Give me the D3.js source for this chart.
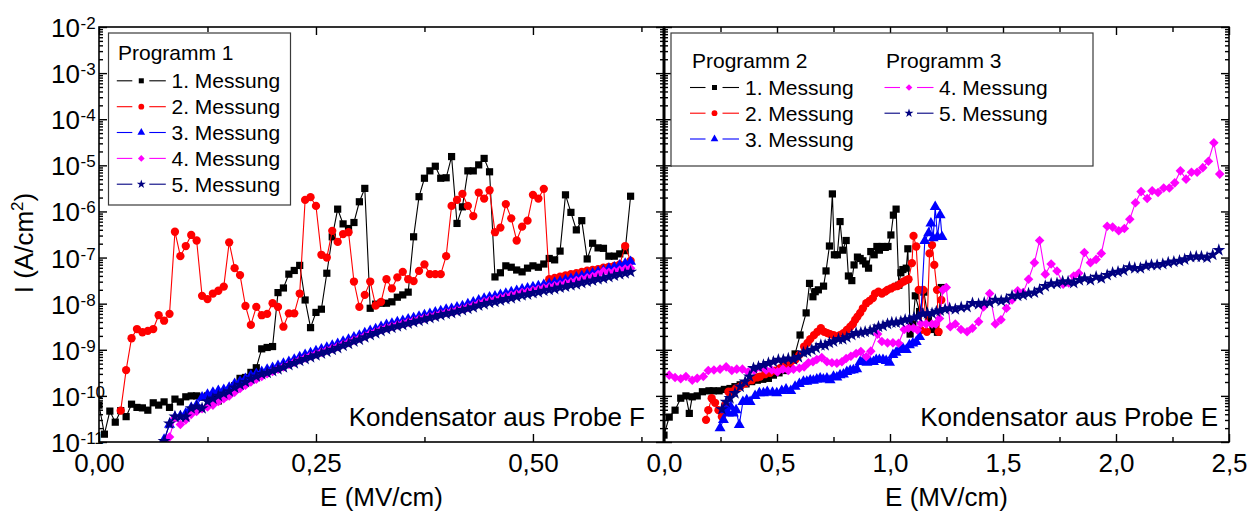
<!DOCTYPE html>
<html>
<head>
<meta charset="utf-8">
<script src="https://cdn.jsdelivr.net/npm/d3@7"></script>
<style>
  body { margin: 0; background: #fff; }
  svg { display: block; }
</style>
</head>
<body>
<svg id="chart" width="1256" height="513"></svg>
<script>
// ---------------------------------------------------------------
// Leakage current density I (A/cm^2) vs. field E (MV/cm)
// Current values are stored as log10(I).
// ---------------------------------------------------------------

// Probe F: all five measurements share one field grid (MV/cm)
const fieldF = [0, 0.00625, 0.0125, 0.01875, 0.025, 0.03125, 0.0375, 0.04375, 0.05, 0.05625,
  0.0625, 0.06875, 0.075, 0.08125, 0.0875, 0.09375, 0.1, 0.10625, 0.1125, 0.11875,
  0.125, 0.13125, 0.1375, 0.14375, 0.15, 0.15625, 0.1625, 0.16875, 0.175, 0.18125,
  0.1875, 0.19375, 0.2, 0.20625, 0.2125, 0.21875, 0.225, 0.23125, 0.2375, 0.24375,
  0.25, 0.25625, 0.2625, 0.26875, 0.275, 0.28125, 0.2875, 0.29375, 0.3, 0.30625,
  0.3125, 0.31875, 0.325, 0.33125, 0.3375, 0.34375, 0.35, 0.35625, 0.3625, 0.36875,
  0.375, 0.38125, 0.3875, 0.39375, 0.4, 0.40625, 0.4125, 0.41875, 0.425, 0.43125,
  0.4375, 0.44375, 0.45, 0.45625, 0.4625, 0.46875, 0.475, 0.48125, 0.4875, 0.49375,
  0.5, 0.50625, 0.5125, 0.51875, 0.525, 0.53125, 0.5375, 0.54375, 0.55, 0.55625,
  0.5625, 0.56875, 0.575, 0.58125, 0.5875, 0.59375, 0.6, 0.60625, 0.6125];

const logF_m1 = [-10.20, -10.83, -10.33, -10.57, -10.32, -10.45, -10.18, -10.25, -10.26, -10.31,
  -10.15, -10.20, -10.13, -10.25, -10.07, -10.13, -10.02, -10.00, -10.00, -10.03,
  -10.00, -10.02, -10.11, -10.02, -9.91, -9.78, -9.62, -9.60, -9.49, -9.39,
  -8.98, -8.95, -8.93, -7.76, -7.66, -7.36, -7.28, -7.17, -7.92, -8.52,
  -8.19, -8.12, -7.34, -6.55, -5.95, -6.27, -6.37, -6.24, -5.79, -5.50,
  -8.10, -8.01, -7.99, -7.99, -7.96, -7.86, -7.81, -7.75, -6.55, -5.68,
  -5.28, -5.12, -5.02, -5.28, -5.27, -4.81, -6.26, -5.90, -5.12, -5.12,
  -4.99, -4.85, -5.14, -7.42, -7.33, -7.18, -7.21, -7.27, -7.31, -7.23,
  -7.18, -7.21, -7.14, -7.02, -7.05, -6.86, -5.64, -6.02, -6.40, -6.20,
  -7.03, -6.69, -6.79, -6.80, -6.97, -6.97, -6.92, -6.85, -5.67];

const logF_m2 = [null, null, null, null, -10.32, -9.44, -8.75, -8.55, -8.62, -8.59,
  -8.55, -8.25, -8.37, -8.22, -6.44, -6.97, -6.75, -6.51, -6.63, -7.83,
  -7.90, -7.78, -7.72, -7.63, -6.67, -7.23, -7.38, -8.05, -8.46, -8.07,
  -8.25, -8.22, -7.99, -8.07, -8.50, -8.21, -8.21, -7.78, -5.75, -5.69,
  -5.88, -6.94, -7.00, -6.42, -6.66, -6.49, -6.45, -7.52, -8.07, -7.81,
  -7.52, -8.04, -7.96, -7.47, -7.67, -7.43, -7.31, -7.47, -7.51, -7.29,
  -7.15, -7.36, -7.36, -7.36, -6.97, -5.88, -5.75, -5.62, -5.88, -6.10,
  -5.59, -5.72, -5.54, -6.45, -6.35, -5.84, -6.15, -6.63, -6.33, -6.20,
  -5.64, -5.72, -5.51, -7.47, -7.44, -7.415, -7.385, -7.36, -7.34, -7.31,
  -7.285, -7.27, -7.25, -7.22, -7.20, -7.18, -7.15, -6.75, -7.07];

const logF_m3 = [null, null, null, null, null, null, null, null, null, null,
  null, -11.15, -10.95, -10.62, -10.46, -10.44, -10.38, -10.26, -10.20, -10.03,
  -9.97, -9.93, -9.89, -9.87, -9.82, -9.74, -9.69, -9.63, -9.56, -9.52,
  -9.48, -9.43, -9.39, -9.35, -9.30, -9.26, -9.21, -9.16, -9.11, -9.07,
  -9.03, -8.99, -8.95, -8.91, -8.87, -8.82, -8.78, -8.73, -8.69, -8.64,
  -8.59, -8.55, -8.50, -8.46, -8.43, -8.40, -8.37, -8.34, -8.31, -8.28,
  -8.25, -8.22, -8.19, -8.16, -8.13, -8.11, -8.08, -8.05, -8.01, -7.97,
  -7.93, -7.89, -7.86, -7.84, -7.81, -7.78, -7.75, -7.72, -7.69, -7.67,
  -7.64, -7.62, -7.59, -7.57, -7.54, -7.52, -7.49, -7.46, -7.43, -7.40,
  -7.37, -7.34, -7.31, -7.28, -7.24, -7.21, -7.17, -7.13, -7.09];

const logF_m4 = [null, null, null, null, null, null, null, null, null, null,
  null, null, -11.20, -10.89, -10.48, -10.62, -10.52, -10.40, -10.34, -10.28,
  -10.24, -10.20, -10.12, -10.06, -10.00, -9.92, -9.84, -9.77, -9.70, -9.64,
  -9.58, -9.52, -9.47, -9.42, -9.37, -9.32, -9.27, -9.22, -9.18, -9.13,
  -9.09, -9.05, -9.01, -8.97, -8.93, -8.88, -8.84, -8.79, -8.75, -8.70,
  -8.65, -8.61, -8.56, -8.52, -8.49, -8.46, -8.43, -8.40, -8.37, -8.34,
  -8.31, -8.28, -8.25, -8.22, -8.19, -8.17, -8.14, -8.11, -8.08, -8.04,
  -8.00, -7.96, -7.93, -7.91, -7.88, -7.85, -7.82, -7.79, -7.76, -7.74,
  -7.71, -7.69, -7.66, -7.64, -7.61, -7.59, -7.56, -7.53, -7.50, -7.47,
  -7.44, -7.41, -7.37, -7.30, -7.32, -7.30, -7.27, -7.25, -7.23];

const logF_m5 = [null, null, null, null, null, null, null, null, null, null,
  null, -11.20, -10.98, -10.60, -10.45, -10.45, -10.45, -10.27, -10.23, -10.27,
  -10.12, -10.06, -10.00, -9.95, -9.90, -9.82, -9.76, -9.70, -9.63, -9.58,
  -9.53, -9.50, -9.46, -9.42, -9.38, -9.33, -9.29, -9.24, -9.20, -9.16,
  -9.12, -9.08, -9.04, -9.00, -8.96, -8.91, -8.87, -8.82, -8.78, -8.73,
  -8.68, -8.64, -8.59, -8.55, -8.52, -8.49, -8.46, -8.43, -8.40, -8.37,
  -8.34, -8.31, -8.28, -8.25, -8.22, -8.20, -8.17, -8.14, -8.11, -8.08,
  -8.04, -8.01, -7.98, -7.96, -7.93, -7.90, -7.88, -7.85, -7.82, -7.80,
  -7.77, -7.75, -7.72, -7.70, -7.68, -7.65, -7.63, -7.60, -7.58, -7.55,
  -7.52, -7.50, -7.47, -7.45, -7.42, -7.39, -7.36, -7.34, -7.31];

// Probe E: [E (MV/cm), log10 I] per measurement
const probeE_m1 = [[0, -10.85], [0.023, -10.46], [0.049, -10.31], [0.074, -10.05], [0.097, -10.00],
  [0.112, -10.38], [0.125, -10.02], [0.147, -10.00], [0.170, -9.91], [0.199, -9.89],
  [0.218, -9.89], [0.244, -9.89], [0.267, -9.86], [0.292, -9.84], [0.314, -9.80],
  [0.337, -9.76], [0.363, -9.74], [0.388, -9.69], [0.413, -9.66], [0.437, -9.64],
  [0.462, -9.62], [0.484, -9.55], [0.509, -9.50], [0.531, -9.45], [0.558, -9.40],
  [0.580, -9.09], [0.602, -8.68], [0.629, -8.20], [0.644, -7.56], [0.659, -7.85],
  [0.669, -7.74], [0.683, -7.70], [0.706, -7.62], [0.717, -7.29], [0.732, -6.75],
  [0.745, -5.62], [0.754, -6.94], [0.767, -6.94], [0.779, -6.22], [0.791, -6.84],
  [0.806, -6.63], [0.816, -7.40], [0.831, -7.50], [0.841, -7.16], [0.856, -6.99],
  [0.868, -7.02], [0.880, -7.07], [0.892, -7.14], [0.905, -7.23], [0.915, -6.87],
  [0.930, -6.94], [0.942, -6.76], [0.953, -6.84], [0.965, -6.76], [0.979, -6.78],
  [0.991, -6.76], [1.004, -6.51], [1.015, -6.08], [1.027, -5.95], [1.039, -7.60],
  [1.048, -7.33], [1.057, -7.26], [1.072, -7.23], [1.079, -6.81], [1.089, -8.66],
  [1.101, -8.44], [1.112, -7.83], [1.131, -8.17], [1.150, -7.75], [1.170, -8.35],
  [1.190, -8.56], [1.210, -8.62], [1.227, -7.65]];

const probeE_m2 = [[0.186, -10.52], [0.196, -10.31], [0.211, -10.05], [0.226, -10.15], [0.241, -10.31],
  [0.256, -10.45], [0.270, -10.20], [0.285, -9.91], [0.300, -9.91], [0.319, -9.84],
  [0.337, -9.80], [0.361, -9.73], [0.388, -9.66], [0.411, -9.60], [0.425, -9.58],
  [0.447, -9.53], [0.469, -9.50], [0.492, -9.45], [0.514, -9.40], [0.536, -9.33],
  [0.558, -9.28], [0.580, -9.22], [0.599, -9.11], [0.620, -8.93], [0.635, -8.85],
  [0.647, -8.77], [0.664, -8.68], [0.679, -8.61], [0.694, -8.53], [0.709, -8.61],
  [0.723, -8.64], [0.735, -8.66], [0.750, -8.68], [0.765, -8.72], [0.779, -8.68],
  [0.794, -8.64], [0.809, -8.57], [0.824, -8.50], [0.836, -8.44], [0.846, -8.35],
  [0.856, -8.28], [0.868, -8.20], [0.880, -8.10], [0.895, -7.99], [0.909, -7.94],
  [0.924, -7.88], [0.934, -7.78], [0.949, -7.74], [0.964, -7.78], [0.979, -7.74],
  [0.989, -7.70], [1.004, -7.67], [1.019, -7.63], [1.033, -7.62], [1.045, -7.57],
  [1.060, -7.52], [1.072, -7.49], [1.082, -7.47], [1.097, -7.12], [1.104, -6.53],
  [1.116, -6.76], [1.127, -7.70], [1.136, -8.57], [1.147, -7.70], [1.163, -8.61],
  [1.175, -6.91], [1.186, -6.73], [1.196, -7.16], [1.208, -7.70], [1.215, -8.61],
  [1.227, -7.92]];

const probeE_m3 = [[0.248, -10.70], [0.263, -10.52], [0.273, -10.31], [0.285, -10.38], [0.295, -10.23],
  [0.307, -10.38], [0.319, -10.31], [0.333, -10.63], [0.349, -10.13], [0.366, -10.09],
  [0.381, -10.13], [0.403, -10.00], [0.422, -9.94], [0.440, -9.94], [0.457, -9.91],
  [0.480, -9.93], [0.499, -9.94], [0.521, -9.89], [0.540, -9.86], [0.561, -9.89],
  [0.580, -9.80], [0.599, -9.74], [0.617, -9.69], [0.632, -9.69], [0.647, -9.66],
  [0.661, -9.67], [0.676, -9.64], [0.691, -9.62], [0.705, -9.64], [0.721, -9.62],
  [0.735, -9.66], [0.750, -9.58], [0.765, -9.60], [0.779, -9.55], [0.794, -9.53],
  [0.809, -9.48], [0.824, -9.45], [0.838, -9.44], [0.853, -9.42], [0.868, -9.26],
  [0.883, -9.22], [0.898, -9.28], [0.912, -9.26], [0.927, -9.26], [0.939, -9.22],
  [0.953, -9.22], [0.969, -9.22], [0.983, -9.24], [0.998, -9.28], [1.013, -9.11],
  [1.027, -9.06], [1.042, -9.00], [1.057, -8.97], [1.072, -9.00], [1.086, -8.90],
  [1.101, -8.86], [1.116, -8.83], [1.131, -8.72], [1.154, -6.64], [1.171, -6.47],
  [1.181, -6.26], [1.191, -6.58], [1.200, -5.90], [1.210, -6.55], [1.222, -6.08],
  [1.230, -6.55]];

const probeE_m4 = [[0.023, -9.55], [0.049, -9.60], [0.074, -9.63], [0.097, -9.58], [0.125, -9.66],
  [0.147, -9.62], [0.174, -9.58], [0.196, -9.45], [0.221, -9.44], [0.248, -9.42],
  [0.275, -9.37], [0.300, -9.45], [0.322, -9.42], [0.347, -9.42], [0.373, -9.48],
  [0.399, -9.45], [0.425, -9.38], [0.452, -9.44], [0.477, -9.44], [0.502, -9.48],
  [0.526, -9.42], [0.550, -9.45], [0.573, -9.42], [0.599, -9.40], [0.620, -9.37],
  [0.639, -9.28], [0.659, -9.26], [0.676, -9.21], [0.698, -9.17], [0.721, -9.26],
  [0.743, -9.28], [0.765, -9.29], [0.787, -9.26], [0.806, -9.19], [0.827, -9.14],
  [0.850, -9.08], [0.871, -9.04], [0.895, -9.15], [0.915, -9.03], [0.945, -8.66],
  [0.964, -8.82], [0.989, -8.85], [1.013, -8.85], [1.038, -8.86], [1.063, -8.56],
  [1.082, -8.53], [1.104, -8.53], [1.121, -8.57], [1.137, -8.43], [1.160, -8.44],
  [1.186, -8.44], [1.202, -8.44], [1.219, -8.32], [1.234, -7.70], [1.249, -7.65],
  [1.267, -8.50], [1.289, -8.44], [1.314, -8.56], [1.341, -8.61], [1.365, -8.53],
  [1.392, -8.39], [1.414, -8.07], [1.441, -7.78], [1.466, -8.44], [1.491, -8.35],
  [1.515, -8.10], [1.540, -7.92], [1.565, -7.72], [1.589, -7.76], [1.613, -7.47],
  [1.639, -7.11], [1.662, -6.63], [1.687, -7.36], [1.713, -7.14], [1.739, -7.29],
  [1.766, -7.58], [1.791, -7.55], [1.813, -7.40], [1.835, -7.34], [1.860, -6.89],
  [1.887, -7.11], [1.912, -7.04], [1.935, -6.91], [1.961, -6.32], [1.985, -6.34],
  [2.012, -6.42], [2.037, -6.37], [2.061, -6.17], [2.086, -5.81], [2.111, -5.57],
  [2.138, -5.72], [2.160, -5.55], [2.186, -5.59], [2.211, -5.49], [2.236, -5.49],
  [2.260, -5.38], [2.285, -5.12], [2.310, -5.30], [2.334, -5.15], [2.359, -5.15],
  [2.384, -5.05], [2.409, -4.91], [2.433, -4.51], [2.459, -5.19]];

const probeE_m5 = [[0.256, -10.29], [0.275, -10.13], [0.292, -10.05], [0.314, -9.94], [0.337, -9.80],
  [0.359, -9.69], [0.378, -9.58], [0.396, -9.40], [0.418, -9.37], [0.440, -9.33],
  [0.462, -9.29], [0.484, -9.26], [0.506, -9.22], [0.528, -9.22], [0.550, -9.19],
  [0.573, -9.21], [0.595, -9.16], [0.617, -9.06], [0.635, -9.04], [0.654, -9.00],
  [0.673, -8.96], [0.694, -8.90], [0.713, -8.90], [0.732, -8.85], [0.750, -8.82],
  [0.772, -8.77], [0.791, -8.77], [0.809, -8.73], [0.831, -8.68], [0.850, -8.64],
  [0.871, -8.63], [0.890, -8.61], [0.912, -8.59], [0.930, -8.56], [0.949, -8.50],
  [0.969, -8.48], [0.989, -8.44], [1.008, -8.41], [1.027, -8.41], [1.048, -8.39],
  [1.067, -8.35], [1.086, -8.34], [1.107, -8.30], [1.126, -8.28], [1.146, -8.22],
  [1.166, -8.21], [1.186, -8.21], [1.205, -8.17], [1.222, -8.15], [1.244, -8.12],
  [1.264, -8.10], [1.289, -8.12], [1.315, -8.08], [1.341, -8.07], [1.365, -7.99],
  [1.392, -8.01], [1.417, -7.98], [1.441, -7.98], [1.466, -7.92], [1.492, -7.94],
  [1.515, -7.91], [1.540, -7.83], [1.565, -7.83], [1.589, -7.81], [1.613, -7.78],
  [1.639, -7.76], [1.662, -7.70], [1.687, -7.62], [1.713, -7.57], [1.739, -7.56],
  [1.764, -7.52], [1.788, -7.52], [1.813, -7.55], [1.838, -7.49], [1.861, -7.45],
  [1.887, -7.49], [1.912, -7.42], [1.935, -7.45], [1.961, -7.38], [1.985, -7.33],
  [2.009, -7.31], [2.034, -7.28], [2.059, -7.21], [2.083, -7.23], [2.108, -7.23],
  [2.133, -7.18], [2.157, -7.16], [2.182, -7.16], [2.207, -7.14], [2.231, -7.11],
  [2.256, -7.09], [2.281, -7.07], [2.304, -7.04], [2.330, -6.99], [2.355, -6.98],
  [2.378, -6.98], [2.403, -7.00], [2.428, -6.94], [2.455, -6.84]];

// Labels and ticks
const measurementLabels = ["1. Messung", "2. Messung", "3. Messung", "4. Messung", "5. Messung"];
const programLabels = ["Programm 1", "Programm 2", "Programm 3"];
const panelLabels = ["Kondensator aus Probe F", "Kondensator aus Probe E"];
const xTitle = "E (MV/cm)";
const decadeExponents = [-11, -10, -9, -8, -7, -6, -5, -4, -3, -2];
const ticksF = [0, 0.25, 0.5];
const minorTicksF = [0.125, 0.375, 0.625];
const ticksE = [0, 0.5, 1.0, 1.5, 2.0, 2.5];
const minorTicksE = [0.25, 0.75, 1.25, 1.75, 2.25];

// ---------------------------------------------------------------
const FONT = '"Liberation Sans", Arial, Helvetica, sans-serif';
const AXIS_FONT = 26;
const svg = d3.select("#chart");

const plotTop = 27, plotBottom = 442;
const leftX0 = 99, midX = 664, rightX1 = 1229;

const y = d3.scaleLog().domain([1e-11, 1e-2]).range([plotBottom, plotTop]);
const xF = d3.scaleLinear().domain([0, 0.651]).range([leftX0, midX]);
const xE = d3.scaleLinear().domain([0, 2.5]).range([midX, rightX1]);

const de = d3.formatLocale({ decimal: ",", thousands: ".", grouping: [3], currency: ["", " €"] });
const fmt2 = de.format(".2f");
const fmt1 = de.format(".1f");

const styles = [
  { color: "#000000", shape: "square" },
  { color: "#ff0000", shape: "circle" },
  { color: "#0000ff", shape: "triangle" },
  { color: "#ff00ff", shape: "diamond" },
  { color: "#000080", shape: "star" }
];

function markerPath(shape) {
  switch (shape) {
    case "square": return d3.symbol().type(d3.symbolSquare).size(52)();
    case "circle": return d3.symbol().type(d3.symbolCircle).size(54)();
    case "triangle": return d3.symbol().type(d3.symbolTriangle).size(52)();
    case "diamond": return d3.symbol().type(d3.symbolSquare).size(46)();
    case "star": return d3.symbol().type(d3.symbolStar).size(52)();
  }
}
function markerRot(shape) { return shape === "diamond" ? 45 : 0; }

// clipping of the two plot areas
const defs = svg.append("defs");
defs.append("clipPath").attr("id", "clipF").append("rect")
  .attr("x", leftX0).attr("y", plotTop).attr("width", midX - leftX0).attr("height", plotBottom - plotTop);
defs.append("clipPath").attr("id", "clipE").append("rect")
  .attr("x", midX).attr("y", plotTop).attr("width", rightX1 - midX).attr("height", plotBottom - plotTop);

function drawSeries(parent, xs, pts, style) {
  const line = d3.line().x(d => xs(d[0])).y(d => y(Math.pow(10, d[1])));
  const g = parent.append("g");
  g.append("path").attr("d", line(pts))
    .attr("fill", "none").attr("stroke", style.color).attr("stroke-width", 1.1);
  const p = markerPath(style.shape), r = markerRot(style.shape);
  g.selectAll("path.mk").data(pts).join("path").attr("class", "mk")
    .attr("d", p)
    .attr("transform", d => `translate(${xs(d[0])},${y(Math.pow(10, d[1]))}) rotate(${r})`)
    .attr("fill", style.color);
}

// Probe F panel data
const gF = svg.append("g").attr("clip-path", "url(#clipF)");
[logF_m1, logF_m2, logF_m3, logF_m4, logF_m5].forEach((vals, i) => {
  const pts = fieldF.map((e, k) => [e, vals[k]]).filter(d => d[1] !== null && d[1] !== undefined);
  drawSeries(gF, xF, pts, styles[i]);
});

// Probe E panel data
const gE = svg.append("g").attr("clip-path", "url(#clipE)");
[probeE_m1, probeE_m2, probeE_m3, probeE_m4, probeE_m5].forEach((pts, i) => {
  drawSeries(gE, xE, pts, styles[i]);
});

// ---------------------------------------------------------------
// Axes
function addAxis(axis, tx, ty) {
  const g = svg.append("g").attr("transform", `translate(${tx},${ty})`).call(axis);
  g.select(".domain").remove();
  g.attr("font-family", FONT).attr("font-size", AXIS_FONT);
  g.selectAll(".tick line").attr("stroke", "#000").attr("stroke-width", 1.4);
  g.selectAll(".tick text").attr("fill", "#000");
  return g;
}
const majorY = decadeExponents.map(e => Math.pow(10, e));
const minorY = [];
decadeExponents.slice(0, -1).forEach(e => {
  [2, 3, 4, 5, 6, 7, 8, 9].forEach(k => minorY.push(k * Math.pow(10, e)));
});

// bottom + top, probe F
addAxis(d3.axisBottom(xF).tickValues(ticksF).tickFormat(fmt2).tickSize(-8).tickPadding(12), 0, plotBottom);
addAxis(d3.axisBottom(xF).tickValues(minorTicksF).tickFormat("").tickSize(-5), 0, plotBottom);
addAxis(d3.axisTop(xF).tickValues(ticksF).tickFormat("").tickSize(-8), 0, plotTop);
addAxis(d3.axisTop(xF).tickValues(minorTicksF).tickFormat("").tickSize(-5), 0, plotTop);
// bottom + top, probe E
addAxis(d3.axisBottom(xE).tickValues(ticksE).tickFormat(fmt1).tickSize(-8).tickPadding(12), 0, plotBottom);
addAxis(d3.axisBottom(xE).tickValues(minorTicksE).tickFormat("").tickSize(-5), 0, plotBottom);
addAxis(d3.axisTop(xE).tickValues(ticksE).tickFormat("").tickSize(-8), 0, plotTop);
addAxis(d3.axisTop(xE).tickValues(minorTicksE).tickFormat("").tickSize(-5), 0, plotTop);

// vertical log axes (ticks pointing into each panel)
[[d3.axisLeft, leftX0], [d3.axisRight, midX], [d3.axisLeft, midX], [d3.axisRight, rightX1]].forEach(([ax, x0]) => {
  addAxis(ax(y).tickValues(majorY).tickFormat("").tickSize(-8), x0, 0);
  addAxis(ax(y).tickValues(minorY).tickFormat("").tickSize(-4), x0, 0);
});

// decade labels 10^n
const yLab = svg.append("g").attr("font-family", FONT).attr("fill", "#000");
decadeExponents.forEach(e => {
  const yy = y(Math.pow(10, e));
  yLab.append("text").attr("x", 80).attr("y", yy + 10).attr("text-anchor", "end")
    .attr("font-size", 26).text("10");
  yLab.append("text").attr("x", 80.5).attr("y", yy + 2).attr("text-anchor", "start")
    .attr("font-size", 17).text(String(e));
});

// frames
svg.append("rect").attr("x", leftX0).attr("y", plotTop).attr("width", midX - leftX0).attr("height", plotBottom - plotTop)
  .attr("fill", "none").attr("stroke", "#000").attr("stroke-width", 1.6);
svg.append("rect").attr("x", midX).attr("y", plotTop).attr("width", rightX1 - midX).attr("height", plotBottom - plotTop)
  .attr("fill", "none").attr("stroke", "#000").attr("stroke-width", 1.6);
svg.append("line").attr("x1", midX).attr("x2", midX).attr("y1", plotTop).attr("y2", plotBottom)
  .attr("stroke", "#000").attr("stroke-width", 3);

// axis titles
const titles = svg.append("g").attr("font-family", FONT).attr("font-size", AXIS_FONT).attr("fill", "#000");
titles.append("text").attr("x", (leftX0 + midX) / 2).attr("y", 506).attr("text-anchor", "middle").text(xTitle);
titles.append("text").attr("x", (midX + rightX1) / 2).attr("y", 506).attr("text-anchor", "middle").text(xTitle);
const yt = titles.append("text").attr("transform", "translate(33,243) rotate(-90)").attr("text-anchor", "middle");
yt.append("tspan").text("I (A/cm");
yt.append("tspan").attr("font-size", 17).attr("dy", -10).text("2");
yt.append("tspan").attr("dy", 10).text(")");

// panel captions
titles.append("text").attr("x", 645).attr("y", 425.5).attr("text-anchor", "end").text(panelLabels[0]);
titles.append("text").attr("x", 1218).attr("y", 425.5).attr("text-anchor", "end").text(panelLabels[1]);

// ---------------------------------------------------------------
// Legends
function legendEntry(g, cx, baseline, style, label, textX) {
  const cy = baseline - 7.5;
  g.append("line").attr("x1", cx - 24.5).attr("x2", cx - 9).attr("y1", cy).attr("y2", cy)
    .attr("stroke", style.color).attr("stroke-width", 1.1);
  g.append("line").attr("x1", cx + 8).attr("x2", cx + 24.5).attr("y1", cy).attr("y2", cy)
    .attr("stroke", style.color).attr("stroke-width", 1.1);
  g.append("path").attr("d", markerPath(style.shape))
    .attr("transform", `translate(${cx},${cy}) rotate(${markerRot(style.shape)}) scale(0.7)`)
    .attr("fill", style.color);
  g.append("text").attr("x", textX).attr("y", baseline).text(label);
}

const lg1 = svg.append("g").attr("font-family", FONT).attr("font-size", 21).attr("fill", "#000");
lg1.append("rect").attr("x", 108.5).attr("y", 33).attr("width", 182).attr("height", 172)
  .attr("fill", "#fff").attr("stroke", "#3a3a3a").attr("stroke-width", 1.2);
lg1.append("text").attr("x", 118).attr("y", 60).text(programLabels[0]);
[88.3, 114.2, 140, 165.9, 191.7].forEach((b, i) => legendEntry(lg1, 141.3, b, styles[i], measurementLabels[i], 171.5));

const lg2 = svg.append("g").attr("font-family", FONT).attr("font-size", 21).attr("fill", "#000");
lg2.append("rect").attr("x", 671).attr("y", 33).attr("width", 422).attr("height", 133)
  .attr("fill", "#fff").attr("stroke", "#3a3a3a").attr("stroke-width", 1.2);
lg2.append("text").attr("x", 692).attr("y", 68).text(programLabels[1]);
lg2.append("text").attr("x", 886).attr("y", 68).text(programLabels[2]);
[95, 120.7, 146.5].forEach((b, i) => legendEntry(lg2, 714.5, b, styles[i], measurementLabels[i], 745));
[95, 120.7].forEach((b, i) => legendEntry(lg2, 909, b, styles[i + 3], measurementLabels[i + 3], 939));
</script>
</body>
</html>
